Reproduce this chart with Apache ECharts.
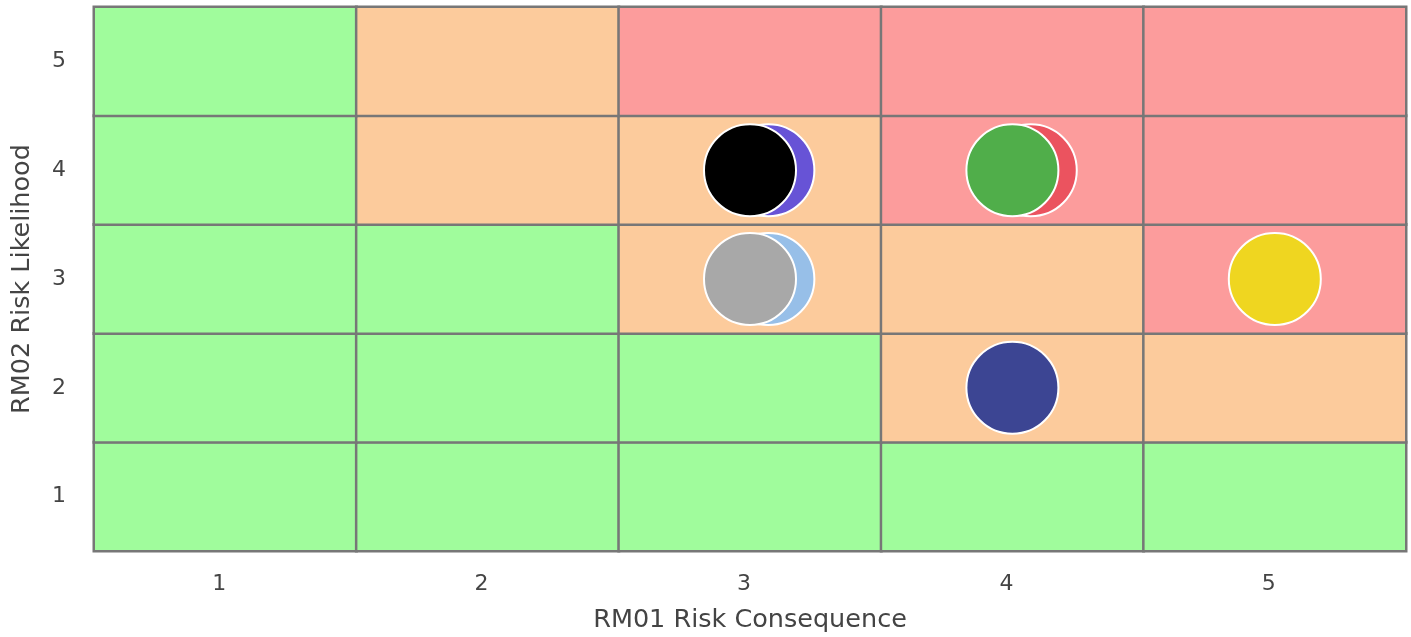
<!DOCTYPE html>
<html>
<head>
<meta charset="utf-8">
<script src="https://cdn.jsdelivr.net/npm/echarts@6/dist/echarts.min.js"></script>
<style>
html,body{margin:0;padding:0;background:#fff;}
#chart{width:1411px;height:637px;}
</style>
</head>
<body>
<div id="chart"></div>
<script>
// Categories / tick labels
var consequenceLabels = ['1', '2', '3', '4', '5'];
var likelihoodLabels = ['1', '2', '3', '4', '5'];

// Risk level per cell: rows = likelihood 1..5 (bottom to top), cols = consequence 1..5
// 0 = low (green), 1 = medium (orange), 2 = high (red)
var riskRow1 = [0, 0, 0, 0, 0];
var riskRow2 = [0, 0, 0, 1, 1];
var riskRow3 = [0, 0, 1, 1, 2];
var riskRow4 = [0, 1, 1, 2, 2];
var riskRow5 = [0, 1, 2, 2, 2];
var levelColors = ['#a0fc9c', '#fccb9c', '#fc9c9c'];

// Risk points (drawn in this order)
var pointConsequence = [3.07, 4.07, 3.07, 5, 4, 3, 4, 3];
var pointLikelihood  = [4, 4, 3, 3, 2, 4, 4, 3];
var pointColors = ['#6753d6', '#eb535f', '#97bfe8', '#efd620', '#3c4593', '#000000', '#50ae4a', '#a8a8a8'];

var riskRows = [riskRow1, riskRow2, riskRow3, riskRow4, riskRow5];
var heatData = [];
riskRows.forEach(function (row, yi) {
  row.forEach(function (lvl, xi) { heatData.push([xi, yi, lvl]); });
});
var scatterData = pointConsequence.map(function (x, i) {
  return { value: [x, pointLikelihood[i]], itemStyle: { color: pointColors[i] } };
});

var font = 'DejaVu Sans, Verdana, sans-serif';
var chart = echarts.init(document.getElementById('chart'), null, { renderer: 'canvas' });
chart.setOption({
  animation: false,
  backgroundColor: '#ffffff',
  grid: { left: 94, top: 7, width: 1312, height: 544, containLabel: false, outerBoundsMode: 'none' },
  xAxis: [
    {
      type: 'category', data: consequenceLabels, position: 'bottom',
      name: 'RM01 Risk Consequence', nameLocation: 'middle', nameGap: 56,
      nameTextStyle: { fontFamily: font, fontSize: 25.5, color: '#444' },
      axisLine: { show: false }, axisTick: { show: false }, splitLine: { show: false },
      axisLabel: { fontFamily: font, fontSize: 22, color: '#444', margin: 22, padding: [0, 12, 0, 0] }
    },
    { type: 'value', min: 0.5, max: 5.5, show: false }
  ],
  yAxis: [
    {
      type: 'category', data: likelihoodLabels,
      name: 'RM02 Risk Likelihood', nameLocation: 'middle', nameGap: 59,
      nameTextStyle: { fontFamily: font, fontSize: 25.5, color: '#444' },
      axisLine: { show: false }, axisTick: { show: false }, splitLine: { show: false },
      axisLabel: { fontFamily: font, fontSize: 22, color: '#444', margin: 28, padding: [4, 0, 0, 0] }
    },
    { type: 'value', min: 0.5, max: 5.5, show: false }
  ],
  visualMap: {
    type: 'piecewise', show: false, seriesIndex: 0, dimension: 2,
    pieces: [
      { value: 0, color: levelColors[0] },
      { value: 1, color: levelColors[1] },
      { value: 2, color: levelColors[2] }
    ]
  },
  series: [
    {
      type: 'heatmap', xAxisIndex: 0, yAxisIndex: 0, data: heatData,
      itemStyle: { borderColor: '#777777', borderWidth: 2.5 },
      emphasis: { disabled: true }
    },
    {
      type: 'scatter', xAxisIndex: 1, yAxisIndex: 1, data: scatterData,
      symbol: 'circle', symbolSize: 92,
      itemStyle: { borderColor: '#ffffff', borderWidth: 2, opacity: 1 },
      z: 5
    }
  ]
});
</script>
</body>
</html>
